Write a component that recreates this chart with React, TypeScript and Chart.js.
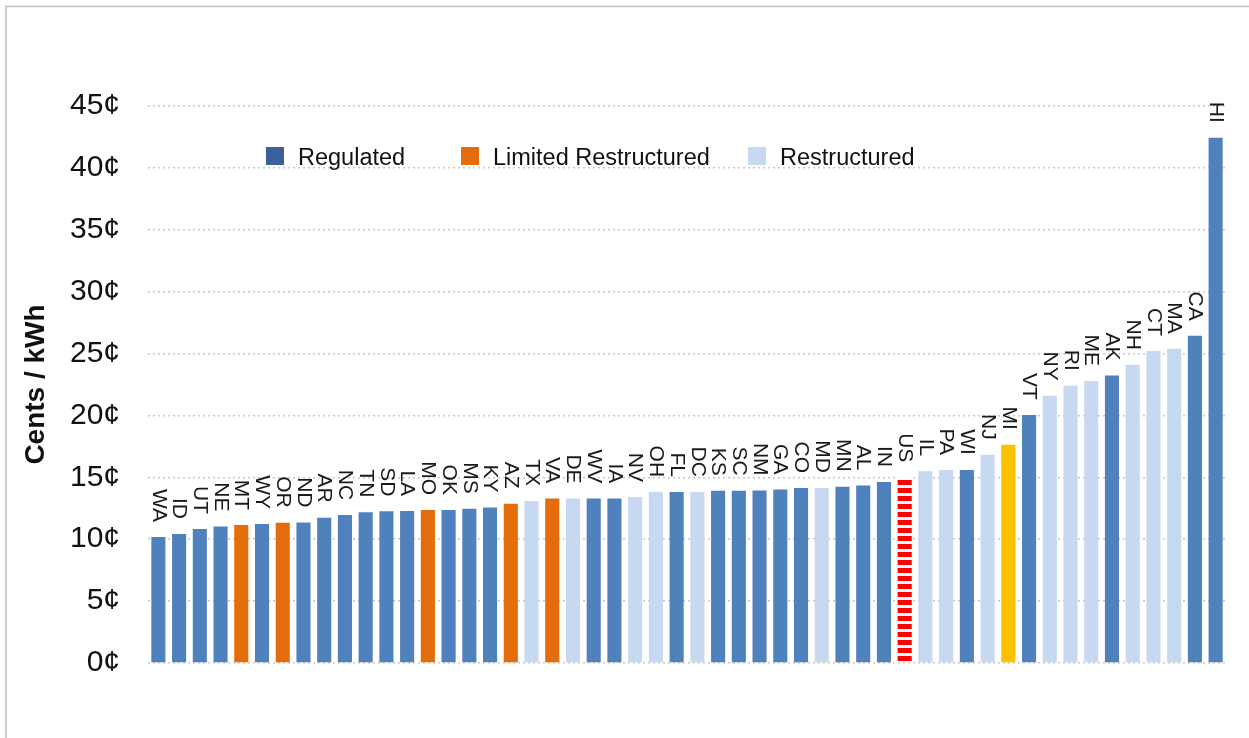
import React, { useEffect, useRef } from "react";
import { Chart, registerables } from "chart.js";

Chart.register(...registerables);

// ---- data ----
const states = [
  "WA", "ID", "UT", "NE", "MT", "WY", "OR", "ND", "AR", "NC", "TN", "SD", "LA",
  "MO", "OK", "MS", "KY", "AZ", "TX", "VA", "DE", "WV", "IA", "NV", "OH", "FL",
  "DC", "KS", "SC", "NM", "GA", "CO", "MD", "MN", "AL", "IN", "US", "IL", "PA",
  "WI", "NJ", "MI", "VT", "NY", "RI", "ME", "AK", "NH", "CT", "MA", "CA", "HI",
];
const prices = [
  10.18, 10.42, 10.82, 11.03, 11.15, 11.23, 11.33, 11.35, 11.74, 11.95, 12.17, 12.25, 12.27,
  12.36, 12.37, 12.46, 12.57, 12.87, 13.09, 13.3, 13.28, 13.3, 13.3, 13.41, 13.81, 13.82,
  13.82, 13.92, 13.92, 13.93, 14.02, 14.13, 14.14, 14.24, 14.35, 14.62, 15.0, 15.5, 15.6,
  15.6, 16.83, 17.63, 20.04, 21.59, 22.39, 22.79, 23.22, 24.09, 25.2, 25.39, 26.44, 42.43,
];
// R = regulated, L = limited restructured, S = restructured, US = national average, MI = special
const regimes = [
  "R", "R", "R", "R", "L", "R", "L", "R", "R", "R", "R", "R", "R",
  "L", "R", "R", "R", "L", "S", "L", "S", "R", "R", "S", "S", "R",
  "S", "R", "R", "R", "R", "R", "S", "R", "R", "R", "US", "S", "S",
  "R", "S", "MI", "R", "S", "S", "S", "R", "S", "S", "S", "R", "R",
];
const yTickValues = [0, 5, 10, 15, 20, 25, 30, 35, 40, 45];
const yAxisTitle = "Cents / kWh";
const legendLabels = ["Regulated", "Limited Restructured", "Restructured"];

// ---- styles ----
const COLORS: Record<string, string> = {
  R: "#4F81BD",
  L: "#E46C0A",
  S: "#C6D9F1",
  MI: "#FFC000",
};
const LEGEND_COLORS = ["#3A6299", "#E46C0A", "#C6D9F1"];
const LEGEND_X = [266, 461, 748];
const FONT = "'Liberation Sans', Arial, sans-serif";

export default function App() {
  const canvasRef = useRef<HTMLCanvasElement | null>(null);

  useEffect(() => {
    document.body.style.margin = "0";
    const canvas = canvasRef.current;
    if (!canvas) return;
    const ctx = canvas.getContext("2d")!;

    // striped red pattern for US average
    const pc = document.createElement("canvas");
    pc.width = 4;
    pc.height = 8;
    const pctx = pc.getContext("2d")!;
    pctx.fillStyle = "#FFFFFF";
    pctx.fillRect(0, 0, 4, 8);
    pctx.fillStyle = "#FF0000";
    pctx.fillRect(0, 0, 4, 5);
    const usPattern = ctx.createPattern(pc, "repeat")!;

    const barColors = regimes.map((r) => (r === "US" ? usPattern : COLORS[r]));

    const framePlugin = {
      id: "frame",
      beforeDraw(chart: any) {
        const c = chart.ctx;
        c.save();
        c.fillStyle = "#ffffff";
        c.fillRect(0, 0, chart.width, chart.height);
        c.strokeStyle = "#BFBFBF";
        c.lineWidth = 1.5;
        c.beginPath();
        c.moveTo(6, chart.height);
        c.lineTo(6, 6.5);
        c.lineTo(chart.width, 6.5);
        c.stroke();
        c.restore();
      },
    };

    const labelPlugin = {
      id: "barLabels",
      afterDatasetsDraw(chart: any) {
        const c = chart.ctx;
        const meta = chart.getDatasetMeta(0);
        c.save();
        c.fillStyle = "#1a1a1a";
        c.font = `21px ${FONT}`;
        c.textAlign = "right";
        c.textBaseline = "middle";
        meta.data.forEach((el: any, i: number) => {
          c.save();
          c.translate(el.x, el.y - 15);
          c.rotate(Math.PI / 2);
          c.fillText(states[i], 0, 0);
          c.restore();
        });
        c.restore();
      },
    };

    const legendPlugin = {
      id: "customLegend",
      afterDraw(chart: any) {
        const c = chart.ctx;
        c.save();
        c.font = `23.5px ${FONT}`;
        c.textBaseline = "alphabetic";
        c.textAlign = "left";
        legendLabels.forEach((lab, i) => {
          const x = LEGEND_X[i];
          c.fillStyle = LEGEND_COLORS[i];
          c.fillRect(x, 147, 18, 18);
          c.fillStyle = "#111111";
          c.fillText(lab, x + 32, 165);
        });
        c.restore();
      },
    };

    const chart = new Chart(ctx, {
      type: "bar",
      data: {
        labels: states,
        datasets: [
          {
            data: prices,
            backgroundColor: barColors as any,
            borderWidth: 0,
            barPercentage: 0.68,
            categoryPercentage: 1,
          },
        ],
      },
      options: {
        animation: false,
        responsive: false,
        maintainAspectRatio: false,
        layout: {
          padding: { left: 15, right: 23, top: 106, bottom: 75 },
        },
        plugins: {
          legend: { display: false },
          tooltip: { enabled: false },
        },
        scales: {
          x: {
            display: false,
            grid: { display: false },
          },
          y: {
            min: 0,
            max: 45,
            afterFit(scale: any) {
              scale.width = 133;
            },
            afterBuildTicks(scale: any) {
              scale.ticks = yTickValues.map((v) => ({ value: v }));
            },
            border: { display: false, dash: [2, 3] },
            grid: {
              color: "#C8C8C8",
              lineWidth: 1.5,
              drawTicks: false,
            },
            ticks: {
              padding: 28,
              color: "#111111",
              font: { family: FONT, size: 30 },
              callback: (v: any) => `${v}¢`,
            },
            title: {
              display: true,
              text: yAxisTitle,
              color: "#111111",
              font: { family: FONT, size: 28, weight: "bold" },
            },
          },
        },
      },
      plugins: [framePlugin, labelPlugin, legendPlugin],
    });

    return () => chart.destroy();
  }, []);

  return (
    <div style={{ width: 1249, height: 738 }}>
      <canvas ref={canvasRef} width={1249} height={738} style={{ display: "block" }} />
    </div>
  );
}
